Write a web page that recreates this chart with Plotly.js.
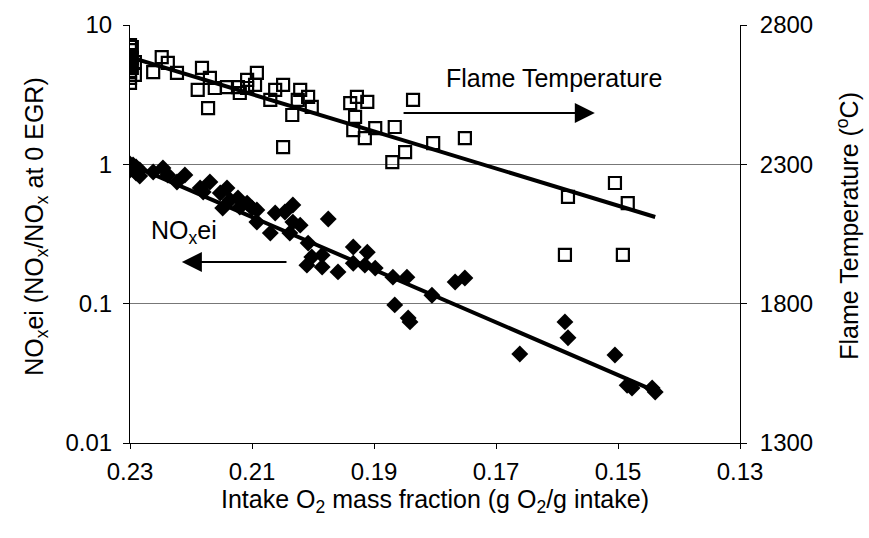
<!DOCTYPE html>
<html>
<head>
<meta charset="utf-8">
<script src="https://cdn.plot.ly/plotly-3.0.1.min.js"></script>
<style>html,body{margin:0;padding:0;background:#fff;}#chart{width:869px;height:538px;}</style>
</head>
<body>
<div id="chart"></div>
<script>
// Flame temperature (open squares, right axis)
const tempX = [0.23,0.23,0.23,0.23,0.23,0.23,0.23,0.23,0.2297,0.2297,0.2297,0.2292,0.2292,
  0.2262,0.2248,0.2238,0.2223,0.2182,0.2169,0.2189,0.2172,0.2161,0.2141,0.2123,0.2120,0.2108,
  0.2092,0.2095,0.2108,0.2062,0.2049,0.2070,0.2021,0.2025,0.2008,0.2002,0.2034,0.2049,0.1939,
  0.1928,0.1911,0.1931,0.1934,0.1915,0.1898,0.1866,0.1836,0.1849,0.1870,0.1803,0.1751,0.1582,
  0.1505,0.1484,0.1587,0.1492];
const tempY = [2728,2710,2692,2674,2656,2631,2610,2592,2721,2682,2646,2667,2621,
  2631,2685,2664,2628,2646,2610,2567,2502,2574,2577,2577,2556,2603,
  2628,2585,2574,2567,2585,2531,2567,2531,2542,2506,2477,2362,2520,
  2542,2524,2470,2423,2394,2430,2434,2531,2344,2308,2376,2394,2183,
  2233,2161,1975,1975];
// NOx emission index ratio (filled diamonds, left log axis)
const noxX = [0.23,0.23,0.23,0.23,0.2295,0.2295,0.229,0.229,0.2284,0.2284,
  0.2262,0.2246,0.2238,0.2210,0.2223,0.2185,0.2169,0.2180,0.2152,0.2141,0.2148,0.2136,0.2123,
  0.2120,0.2108,0.2100,0.2092,0.2092,0.2070,0.2062,0.2046,0.2033,0.2038,0.2033,0.2021,0.1975,
  0.2008,0.2002,0.1985,0.2010,0.1985,0.1959,0.1934,0.1911,0.1934,0.1915,0.1898,0.1869,0.1846,
  0.1805,0.1767,0.1751,0.1866,0.1841,0.1844,0.1587,0.1582,0.1661,0.1505,0.1485,0.1477,0.1444,0.1439];
const noxY = [1.005,0.972,0.941,0.910,0.989,0.925,0.956,0.866,0.910,0.824,
  0.880,0.941,0.838,0.838,0.746,0.676,0.746,0.633,0.622,0.676,0.485,0.554,0.573,
  0.493,0.527,0.485,0.470,0.385,0.321,0.447,0.455,0.511,0.321,0.385,0.366,0.405,
  0.272,0.216,0.223,0.189,0.183,0.169,0.255,0.234,0.195,0.189,0.180,0.155,0.155,
  0.115,0.143,0.153,0.098,0.074,0.079,0.074,0.057,0.0435,0.0428,0.0260,0.0248,0.0248,0.0232];
// Fitted trend lines (end points)
const tempFitX = [0.23, 0.1439];
const tempFitY = [2685, 2111];
const noxFitX = [0.23, 0.1439];
const noxFitY = [1.0, 0.0236];
const xTicks = [0.23,0.21,0.19,0.17,0.15,0.13];
const yTicks = [0.01,0.1,1,10];
const yTickText = ['0.01','0.1','1','10'];
const y2Ticks = [1300,1800,2300,2800];

const font = {family:'Liberation Sans, Arial, sans-serif', color:'#000'};
const TF = 24, LF = 25;
const traces = [
  {x:noxFitX, y:noxFitY, mode:'lines', line:{color:'#000', width:4}, yaxis:'y', hoverinfo:'skip'},
  {x:tempFitX, y:tempFitY, mode:'lines', line:{color:'#000', width:4}, yaxis:'y2', hoverinfo:'skip'},
  {x:noxX, y:noxY, mode:'markers', yaxis:'y',
   marker:{symbol:'diamond', size:13, color:'#000', line:{width:0}}},
  {x:tempX, y:tempY, mode:'markers', yaxis:'y2',
   marker:{symbol:'square-open', size:12, color:'#000', line:{width:2.2, color:'#000'}}}
];
const layout = {
  width:869, height:538,
  margin:{l:130, r:129, t:25, b:95},
  paper_bgcolor:'#fff', plot_bgcolor:'#fff',
  showlegend:false,
  font:Object.assign({size:TF}, font),
  xaxis:{range:[0.23,0.13], tickvals:xTicks, tickformat:'.2f',
    showline:true, linecolor:'#000', linewidth:1, ticks:'outside', ticklen:5, tickcolor:'#000',
    showgrid:false, zeroline:false, tickfont:{size:TF}, ticklabelstandoff:2,
    title:{text:'Intake O<sub>2</sub> mass fraction (g O<sub>2</sub>/g intake)', font:{size:LF}, standoff:4}},
  yaxis:{type:'log', range:[-2,1], tickvals:yTicks, ticktext:yTickText,
    showline:true, linecolor:'#000', linewidth:1, ticks:'outside', ticklen:6, tickcolor:'#000',
    showgrid:true, gridcolor:'#777', gridwidth:1, zeroline:false, tickfont:{size:TF}, ticklabelstandoff:6},
  yaxis2:{overlaying:'y', side:'right', range:[1300,2800], tickvals:y2Ticks,
    showline:true, linecolor:'#000', linewidth:1, ticks:'outside', ticklen:6, tickcolor:'#000',
    showgrid:false, zeroline:false, tickfont:{size:TF}, ticklabelstandoff:8},
  annotations:[
    {xref:'paper', yref:'paper', x:-0.184, y:0.519, textangle:-90, showarrow:false,
     text:'NO<sub>x</sub>ei (NO<sub>x</sub>/NO<sub>x</sub> at 0 EGR)', font:{size:LF}},
    {xref:'paper', yref:'paper', x:1.206, y:0.519, textangle:-90, showarrow:false,
     text:'Flame Temperature (<sup>o</sup>C)', font:{size:LF}},
    {xref:'x', yref:'y2', x:0.1605, y:2610, showarrow:false, text:'Flame Temperature', font:{size:LF}},
    {xref:'x', yref:'y2', x:0.1538, y:2484, axref:'x', ayref:'y2', ax:0.1854, ay:2484,
     showarrow:true, arrowhead:2, arrowsize:2, arrowwidth:2, arrowcolor:'#000', text:''},
    {xref:'x', yref:'y', x:0.2211, y:-0.486, showarrow:false, text:'NO<sub>x</sub>ei', font:{size:LF}},
    {xref:'x', yref:'y', x:0.2215, y:-0.701, axref:'x', ayref:'y', ax:0.2041, ay:-0.701,
     showarrow:true, arrowhead:2, arrowsize:2, arrowwidth:2, arrowcolor:'#000', text:''}
  ]
};
Plotly.newPlot('chart', traces, layout, {displayModeBar:false, staticPlot:true});
</script>
</body>
</html>
